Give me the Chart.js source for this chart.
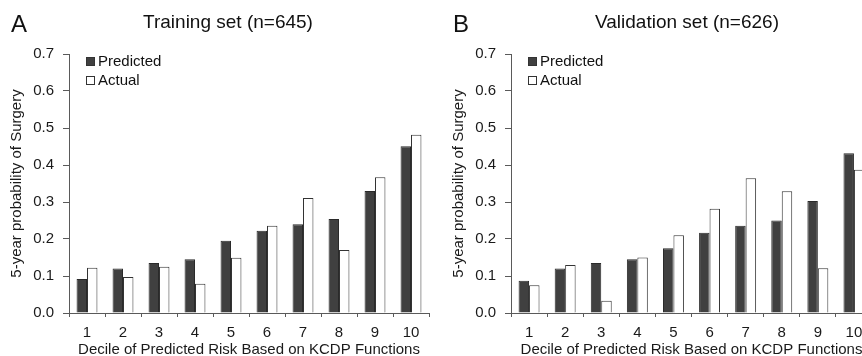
<!DOCTYPE html>
<html>
<head>
<meta charset="utf-8">
<script src="https://cdn.jsdelivr.net/npm/chart.js@4.4.1/dist/chart.umd.min.js"></script>
<style>
  body { margin: 0; background: #fff; overflow: hidden; font-family: "Liberation Sans", Arial, sans-serif; }
  #wrap { position: relative; width: 862px; height: 356px; overflow: hidden; }
  canvas { position: absolute; top: 0; }
  .panel-letter { position: absolute; font-size: 24px; line-height: 24px; color: #111; }
  .panel-title { position: absolute; font-size: 19px; line-height: 19px; color: #111; transform: translateX(-50%); white-space: nowrap; }
  .leg-item { position: absolute; font-size: 15px; line-height: 18px; color: #111; white-space: nowrap; }
  .leg-box { position: absolute; left: 0; top: 5px; width: 7px; height: 7px; border: 1px solid #333; }
  .leg-item span.txt { position: absolute; left: 12px; top: 0; }
</style>
</head>
<body>
<div id="wrap">
  <canvas id="trainChart" width="430" height="356" style="left:0px"></canvas>
  <canvas id="validChart" width="431" height="356" style="left:442px"></canvas>
</div>
<script>
"use strict";

// data
const deciles = ['1', '2', '3', '4', '5', '6', '7', '8', '9', '10'];
const seriesNames = ['Predicted', 'Actual'];
const trainPredicted = [0.092, 0.12, 0.135, 0.145, 0.195, 0.222, 0.24, 0.254, 0.33, 0.451];
const trainActual = [0.122, 0.097, 0.125, 0.079, 0.149, 0.236, 0.311, 0.17, 0.367, 0.482];
const validPredicted = [0.087, 0.12, 0.135, 0.145, 0.175, 0.217, 0.236, 0.25, 0.303, 0.432];
const validActual = [0.075, 0.13, 0.033, 0.15, 0.21, 0.282, 0.364, 0.329, 0.121, 0.387];
const yTicks = [0, 0.1, 0.2, 0.3, 0.4, 0.5, 0.6, 0.7];

const panels = [
    { id: 'trainChart', letter: 'A', title: 'Training set (n=645)', left: 0, titleX: 228, pred: trainPredicted, act: trainActual },
    { id: 'validChart', letter: 'B', title: 'Validation set (n=626)', left: 442, titleX: 687, pred: validPredicted, act: validActual }
];

const axisColor = '#5a5a5a';
const textColor = '#1a1a1a';

Chart.defaults.font.family = '"Liberation Sans", Arial, sans-serif';
Chart.defaults.color = textColor;

const wrap = document.getElementById('wrap');

panels.forEach(p => {
    // bokstav + rubrik
    let letterEl = document.createElement('div');
    letterEl.className = 'panel-letter';
    letterEl.style.left = (p.left + 11) + 'px';
    letterEl.style.top = '12px';
    letterEl.textContent = p.letter;
    wrap.appendChild(letterEl);

    let titleEl = document.createElement('div');
    titleEl.className = 'panel-title';
    titleEl.style.left = p.titleX + 'px';
    titleEl.style.top = '12px';
    titleEl.textContent = p.title;
    wrap.appendChild(titleEl);

    // legend
    const fills = ['#404040', '#ffffff'];
    seriesNames.forEach((name, i) => {
        let item = document.createElement('div');
        item.className = 'leg-item';
        item.style.left = (p.left + 86) + 'px';
        item.style.top = (52 + i * 18.5) + 'px';
        let box = document.createElement('span');
        box.className = 'leg-box';
        box.style.background = fills[i];
        let txt = document.createElement('span');
        txt.className = 'txt';
        txt.textContent = name;
        item.appendChild(box);
        item.appendChild(txt);
        wrap.appendChild(item);
    });

    new Chart(document.getElementById(p.id), {
        type: 'bar',
        data: {
            labels: deciles,
            datasets: [{
                label: seriesNames[0],
                data: p.pred,
                backgroundColor: '#404040',
                borderColor: '#2a2a2a',
                borderWidth: 1,
                categoryPercentage: 0.58,
                barPercentage: 1
            }, {
                label: seriesNames[1],
                data: p.act,
                backgroundColor: '#ffffff',
                borderColor: '#333333',
                borderWidth: 1,
                categoryPercentage: 0.58,
                barPercentage: 1
            }]
        },
        options: {
            responsive: false,
            animation: false,
            layout: { padding: { top: 54, right: 1, bottom: 0, left: 0 } },
            plugins: {
                legend: { display: false },
                tooltip: { enabled: false }
            },
            scales: {
                x: {
                    grid: { offset: true, drawOnChartArea: false, drawTicks: true, tickLength: 4, color: axisColor },
                    border: { display: true, color: axisColor, width: 1 },
                    ticks: { font: { size: 15 }, padding: 7, color: textColor, maxRotation: 0 },
                    title: {
                        display: true,
                        text: 'Decile of Predicted Risk Based on KCDP Functions',
                        font: { size: 15, lineHeight: 0.8 },
                        color: textColor,
                        padding: { top: 0, bottom: 0 }
                    },
                    afterFit: (scale) => { scale.height = 43; }
                },
                y: {
                    min: 0,
                    max: 0.7,
                    afterBuildTicks: (scale) => { scale.ticks = yTicks.map(v => ({ value: v })); },
                    grid: { drawOnChartArea: false, drawTicks: true, tickLength: 6, color: axisColor },
                    border: { display: true, color: axisColor, width: 1 },
                    ticks: {
                        font: { size: 15 },
                        padding: 9,
                        color: textColor,
                        callback: (v) => Number(v).toFixed(1)
                    },
                    title: {
                        display: true,
                        text: '5-year probability of Surgery',
                        font: { size: 15, lineHeight: 1 },
                        color: textColor,
                        padding: { top: 9, bottom: 0 }
                    },
                    afterFit: (scale) => { scale.width = 69; }
                }
            }
        }
    });
});
</script>
</body>
</html>
